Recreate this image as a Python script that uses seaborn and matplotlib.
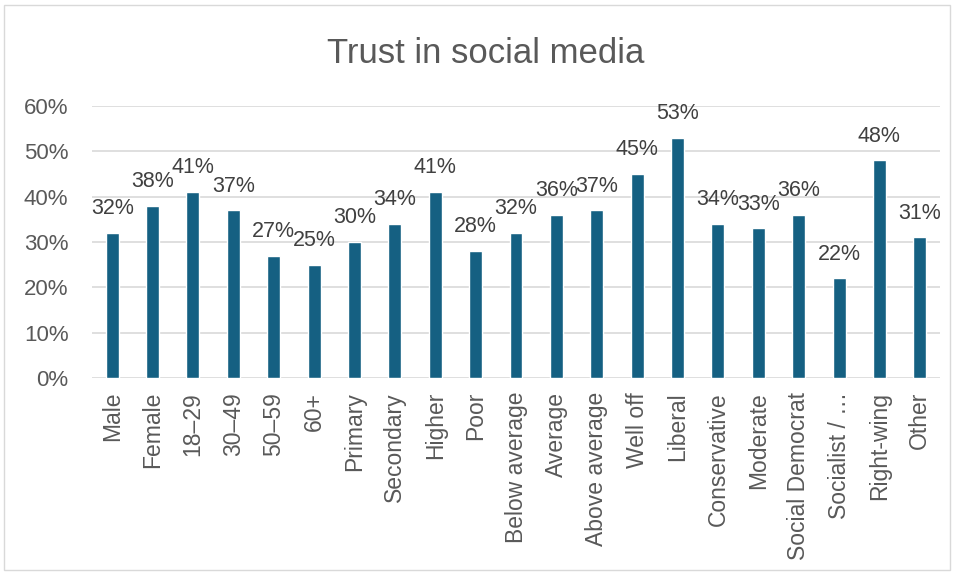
import matplotlib
matplotlib.use("Agg")
import matplotlib.pyplot as plt
import seaborn as sns
import pandas as pd
from matplotlib.patches import Rectangle

categories = ["Male", "Female", "18–29", "30–49", "50–59", "60+", "Primary", "Secondary",
              "Higher", "Poor", "Below average", "Average", "Above average", "Well off",
              "Liberal", "Conservative", "Moderate", "Social Democrat", "Socialist / …",
              "Right-wing", "Other"]
values = [32, 38, 41, 37, 27, 25, 30, 34, 41, 28, 32, 36, 37, 45, 53, 34, 33, 36, 22, 48, 31]
yticks = [0, 10, 20, 30, 40, 50, 60]
title = "Trust in social media"

sns.set_theme(style="white")
plt.rcParams['font.family'] = ['Liberation Sans', 'DejaVu Sans']

df = pd.DataFrame({"cat": categories, "val": values})

fig = plt.figure(figsize=(9.55, 5.75), dpi=100)
ax = fig.add_axes([92/955, 1-378/575, 848/955, 272/575])

grey = "#595959"
for t in yticks:
    ax.axhline(t, color="#D9D9D9", lw=1.2, zorder=0)

sns.barplot(data=df, x="cat", y="val", color="#156082", width=0.32, saturation=1,
            ax=ax, zorder=2)

ax.set_ylim(0, 60)
ax.set_xlim(-0.5, len(categories) - 0.5)
ax.set_yticks(yticks)
ax.set_yticklabels([f"{t}%" for t in yticks], fontsize=16)
ax.set_xlabel("")
ax.set_ylabel("")
for s in ax.spines.values():
    s.set_visible(False)
ax.tick_params(axis="both", length=0, colors=grey)
ax.tick_params(axis="y", pad=17)
ax.tick_params(axis="x", pad=10, labelsize=16.5)
plt.setp(ax.get_xticklabels(), rotation=90)

for i, v in enumerate(values):
    ax.annotate(f"{v}%", (i, v), xytext=(0, 13.5), textcoords="offset points",
                ha="center", va="baseline", fontsize=15.5, color="#404040")

fig.text(486/955, 1-63/575, title, ha="center", va="baseline", fontsize=25, color=grey)

fig.patches.append(Rectangle((4/955, 5/575), 946/955, 565/575, transform=fig.transFigure,
                             fill=False, edgecolor="#D9D9D9", lw=1))

fig.savefig("out.png", dpi=100)
